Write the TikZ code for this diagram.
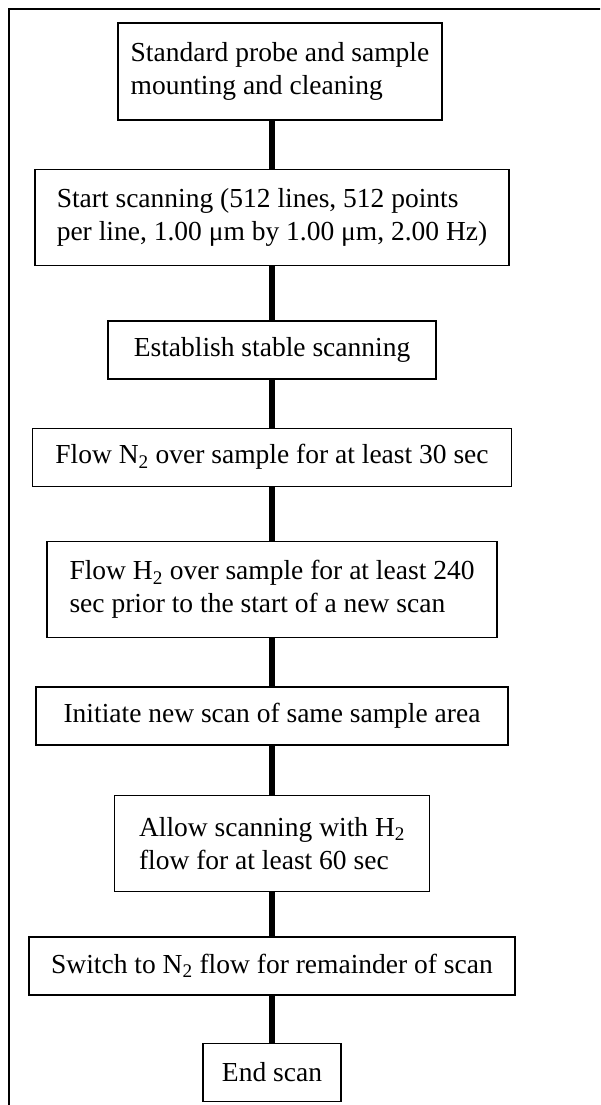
\documentclass[tikz,border=0pt]{standalone}
\usepackage{fontspec}
\setmainfont{Liberation Serif}
\usetikzlibrary{positioning}

\begin{document}
\begin{tikzpicture}
[x=1pt,y=-1pt,
 stepbox/.style={draw,line width=1.4pt,inner xsep=10pt,inner ysep=2pt,align=left,
   font=\fontsize{27.5}{33}\selectfont},
 link/.style={line width=6pt}]
\useasboundingbox (0,0) rectangle (600,1105);
\clip (0,0) rectangle (600,1105);
%% outer frame
\draw[line width=1.5pt] (9,9) rectangle (640,1140);
\coordinate (spine) at (272,0);
%% steps
\node[stepbox,minimum width=324pt,minimum height=97pt] (mount) at (280,71.5)
{Standard probe and sample\\mounting and cleaning};
\node[stepbox,minimum width=474pt,minimum height=96pt,below=48pt of mount,xshift=-8pt] (start)
{Start scanning (512 lines, 512 points\\per line, 1.00 μm by 1.00 μm, 2.00 Hz)};
\node[stepbox,minimum width=328pt,minimum height=58pt,below=54pt of start] (stable)
{Establish stable scanning};
\node[stepbox,minimum width=479pt,minimum height=58pt,below=48pt of stable] (flowN)
{Flow N\textsubscript{2} over sample for at least 30 sec};
\node[stepbox,minimum width=450pt,minimum height=96pt,below=54pt of flowN] (flowH)
{Flow H\textsubscript{2} over sample for at least 240\\sec prior to the start of a new scan};
\node[stepbox,minimum width=472pt,minimum height=58pt,below=48pt of flowH] (newscan)
{Initiate new scan of same sample area};
\node[stepbox,minimum width=315pt,minimum height=96pt,below=49pt of newscan] (allow)
{Allow scanning with H\textsubscript{2}\\flow for at least 60 sec};
\node[stepbox,minimum width=486pt,minimum height=58pt,below=44pt of allow] (switch)
{Switch to N\textsubscript{2} flow for remainder of scan};
\node[stepbox,minimum width=138pt,minimum height=58pt,below=47pt of switch] (end)
{End scan};
%% connectors
\draw[link] (mount.south -| spine) -- (start.north -| spine);
\draw[link] (start.south -| spine) -- (stable.north -| spine);
\draw[link] (stable.south -| spine) -- (flowN.north -| spine);
\draw[link] (flowN.south -| spine) -- (flowH.north -| spine);
\draw[link] (flowH.south -| spine) -- (newscan.north -| spine);
\draw[link] (newscan.south -| spine) -- (allow.north -| spine);
\draw[link] (allow.south -| spine) -- (switch.north -| spine);
\draw[link] (switch.south -| spine) -- (end.north -| spine);
\end{tikzpicture}
\end{document}
